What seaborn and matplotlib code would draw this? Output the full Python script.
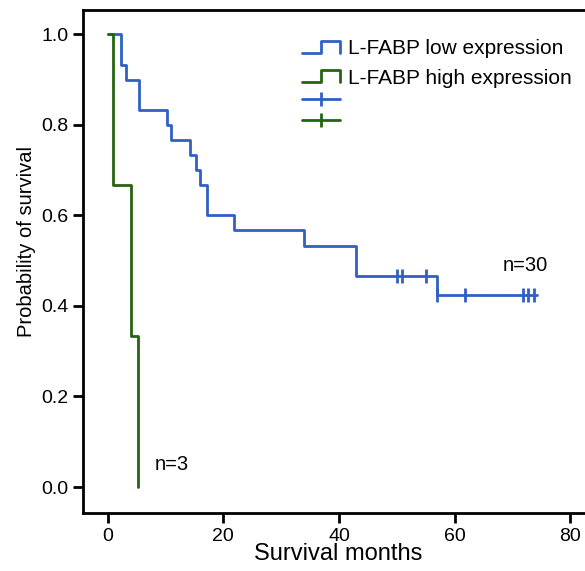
import numpy as np
import pandas as pd
import matplotlib
matplotlib.use("Agg")
import matplotlib.pyplot as plt
from matplotlib.lines import Line2D
from matplotlib.legend_handler import HandlerBase
import seaborn as sns

# ── data ─────────────────────────────────────────────────────
low_times = [0, 2.3, 3.15, 5.35, 10.2, 11.0, 14.25, 15.2, 16.0, 17.1, 21.8, 34.0, 43.0, 57.0, 74.3]
low_surv = [1.0, 0.933, 0.9, 0.833, 0.8, 0.767, 0.733, 0.7, 0.667, 0.6, 0.567, 0.533, 0.467, 0.424, 0.424]
low_cens_times = [50.0, 50.9, 55.0, 57.0, 61.8, 71.8, 72.7, 73.7]
low_cens_surv = [0.467, 0.467, 0.467, 0.424, 0.424, 0.424, 0.424, 0.424]

high_times = [0, 1.0, 4.1, 5.2]
high_surv = [1.0, 0.667, 0.333, 0.0]

labels = ["L-FABP low expression", "L-FABP high expression"]
n_labels = ["n=30", "n=3"]
n_pos = [(72.2, 0.49), (11.0, 0.05)]

BLUE = "#3060c4"
GREEN = "#246410"

# ── style ────────────────────────────────────────────────────
sns.set_style("ticks", {"text.color": "black", "axes.labelcolor": "black",
                        "xtick.color": "black", "ytick.color": "black",
                        "axes.edgecolor": "black"})
plt.rcParams["font.family"] = ["Liberation Sans", "DejaVu Sans"]

fig = plt.figure(figsize=(5.85, 5.71), dpi=100)
ax = fig.add_axes([0.1415, 0.1016, 0.87, 0.8809])

low_df = pd.DataFrame({"t": low_times, "s": low_surv})
high_df = pd.DataFrame({"t": high_times, "s": high_surv})
cens_df = pd.DataFrame({"t": low_cens_times, "s": low_cens_surv})

sns.lineplot(data=low_df, x="t", y="s", ax=ax, color=BLUE, lw=2.0,
             drawstyle="steps-post", estimator=None, sort=False)
sns.lineplot(data=high_df, x="t", y="s", ax=ax, color=GREEN, lw=2.0,
             drawstyle="steps-post", estimator=None, sort=False)
sns.scatterplot(data=cens_df, x="t", y="s", ax=ax, marker="|", s=90,
                color=BLUE, linewidth=2.0, zorder=3)

for txt, (x, y) in zip(n_labels, n_pos):
    ax.text(x, y, txt, ha="center", va="center", fontsize=14.5, color="black")

ax.set_xlim(-4.3, 83.7)
ax.set_ylim(-0.0574, 1.054)
ax.set_xticks([0, 20, 40, 60, 80])
ax.set_yticks([0.0, 0.2, 0.4, 0.6, 0.8, 1.0])
ax.set_yticklabels(["0.0", "0.2", "0.4", "0.6", "0.8", "1.0"])
ax.tick_params(labelsize=14, width=2, length=7, color="black", labelcolor="black")
for sp in ax.spines.values():
    sp.set_linewidth(2)
    sp.set_color("black")
ax.set_xlabel("Survival months", fontsize=17)
ax.set_ylabel("Probability of survival", fontsize=14.5)
ax.xaxis.set_label_coords(0.502, -0.060)
ax.yaxis.set_label_coords(-0.092, 0.539)


# step shaped legend glyph
class StepHandler(HandlerBase):
    def create_artists(self, legend, orig_handle, xdescent, ydescent,
                       width, height, fontsize, trans):
        x = np.array([0, 0.5, 0.5, 1, 1]) * width - xdescent
        y = np.array([0.1, 0.1, 0.9, 0.9, 0.1]) * height - ydescent
        line = Line2D(x, y, color=orig_handle.get_color(),
                      lw=orig_handle.get_linewidth())
        line.set_transform(trans)
        return [line]


h_low = Line2D([], [], color=BLUE, lw=2.0)
h_high = Line2D([], [], color=GREEN, lw=2.0)
c_low = Line2D([], [], color=BLUE, lw=2.0, marker="|", markersize=10, markeredgewidth=2)
c_high = Line2D([], [], color=GREEN, lw=2.0, marker="|", markersize=10, markeredgewidth=2)

leg1 = ax.legend([h_low, h_high], labels,
                 handler_map={h_low: StepHandler(), h_high: StepHandler()},
                 frameon=False, fontsize=15, handlelength=1.83, handletextpad=0.38,
                 labelspacing=0.5, loc="upper left",
                 bbox_to_anchor=(0.516, 0.9315), bbox_transform=fig.transFigure,
                 borderaxespad=0, borderpad=0)
ax.add_artist(leg1)
ax.legend([c_low, c_high], ["", ""],
          frameon=False, fontsize=15, handlelength=1.83, handletextpad=0.38,
          labelspacing=0.11, loc="upper left",
          bbox_to_anchor=(0.516, 0.8398), bbox_transform=fig.transFigure,
          borderaxespad=0, borderpad=0)

fig.savefig("out.png", dpi=100)
